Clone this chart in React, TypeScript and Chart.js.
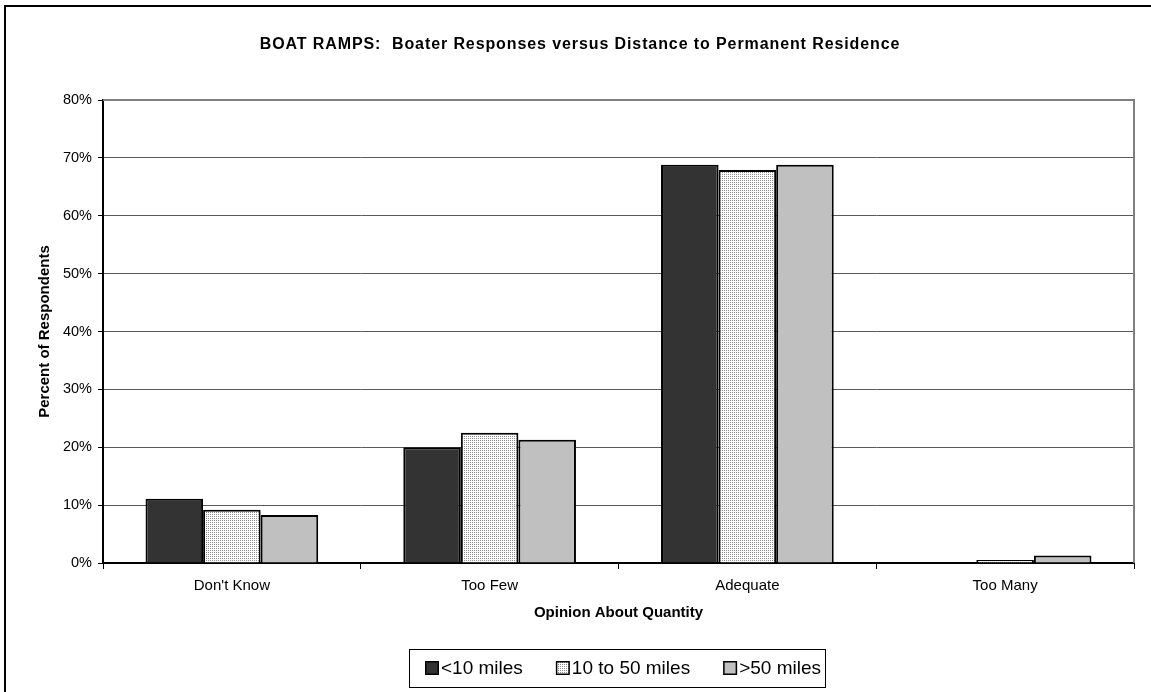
import React, { useEffect, useRef } from 'react';
import { Chart, registerables } from 'chart.js';

Chart.register(...registerables);

const TITLE = 'BOAT RAMPS:  Boater Responses versus Distance to Permanent Residence';
const X_TITLE = 'Opinion About Quantity';
const Y_TITLE = 'Percent of Respondents';

const categories = ["Don't Know", 'Too Few', 'Adequate', 'Too Many'];
const seriesNames = ['<10 miles', '10 to 50 miles', '>50 miles'];
const under10 = [11.1, 20.0, 68.8, 0];
const from10to50 = [9.2, 22.5, 67.9, 0.5];
const over50 = [8.3, 21.3, 68.8, 1.3];
const yTicks = [0, 10, 20, 30, 40, 50, 60, 70, 80];

const FONT = '"Liberation Sans", Arial, sans-serif';

function makeDots(): CanvasPattern {
  const c = document.createElement('canvas');
  c.width = 2;
  c.height = 2;
  const x = c.getContext('2d')!;
  x.fillStyle = '#ffffff';
  x.fillRect(0, 0, 2, 2);
  x.fillStyle = '#8c8c8c';
  x.fillRect(0, 0, 1, 1);
  return x.createPattern(c, 'repeat')!;
}

export default function App() {
  const ref = useRef<HTMLCanvasElement>(null);

  useEffect(() => {
    const canvas = ref.current!;
    const dots = makeDots();
    const fills: (string | CanvasPattern)[] = ['#333333', dots, '#c0c0c0'];
    const values = [under10, from10to50, over50];

    const decor = {
      id: 'decor',
      beforeDatasetsDraw(chart: any) {
        const ctx = chart.ctx as CanvasRenderingContext2D;
        const a = chart.chartArea;
        ctx.save();
        ctx.strokeStyle = '#808080';
        ctx.lineWidth = 2;
        ctx.beginPath();
        ctx.moveTo(a.left, a.top);
        ctx.lineTo(a.right, a.top);
        ctx.lineTo(a.right, a.bottom);
        ctx.stroke();
        ctx.restore();
      },
      afterDraw(chart: any) {
        const ctx = chart.ctx as CanvasRenderingContext2D;
        ctx.save();
        // outer frame
        ctx.strokeStyle = '#000';
        ctx.lineWidth = 2;
        ctx.strokeRect(5, 6, 1300, 900);
        // title
        ctx.fillStyle = '#000';
        ctx.font = `bold 16px ${FONT}`;
        (ctx as any).letterSpacing = '0.9px';
        ctx.textAlign = 'center';
        ctx.textBaseline = 'alphabetic';
        ctx.fillText(TITLE, 580, 49);
        (ctx as any).letterSpacing = '0px';
        // legend
        ctx.font = `19px ${FONT}`;
        const box = 14;
        const gap = 2;
        const itemGap = 33;
        const widths = seriesNames.map((n) => ctx.measureText(n).width);
        const total = widths.reduce((s, w) => s + box + gap + w, 0) + itemGap * (seriesNames.length - 1);
        const frameW = total + 20;
        const frameX = 617 - frameW / 2;
        const frameY = 649;
        const frameH = 38;
        ctx.strokeStyle = '#000';
        ctx.lineWidth = 1;
        ctx.strokeRect(Math.round(frameX) + 0.5, frameY + 0.5, Math.round(frameW), frameH);
        let x = Math.round(frameX) + 16;
        const cy = 668;
        ctx.textAlign = 'left';
        ctx.textBaseline = 'middle';
        seriesNames.forEach((n, i) => {
          ctx.fillStyle = fills[i] as any;
          ctx.fillRect(x, cy - box / 2, box, box);
          ctx.strokeStyle = '#000';
          ctx.lineWidth = 1.5;
          ctx.strokeRect(x + 0.75, cy - box / 2 + 0.75, box - 1.5, box - 1.5);
          ctx.fillStyle = '#000';
          ctx.fillText(n, x + box + gap, cy + 1);
          x += box + gap + widths[i] + itemGap;
        });
        ctx.restore();
      },
    };

    const chart = new Chart(canvas, {
      type: 'bar',
      data: {
        labels: categories,
        datasets: seriesNames.map((name, i) => ({
          label: name,
          data: values[i],
          backgroundColor: fills[i] as any,
          borderColor: '#000000',
          borderWidth: 2,
          categoryPercentage: 0.67,
          barPercentage: 1.0,
        })),
      },
      options: {
        responsive: false,
        animation: false,
        devicePixelRatio: 1,
        layout: { padding: { top: 100, right: 17, bottom: 69, left: 20 } },
        plugins: {
          legend: { display: false },
          title: { display: false },
          tooltip: { enabled: false },
        },
        scales: {
          x: {
            ticks: { padding: 8, font: { size: 15, family: FONT }, color: '#000' },
            grid: { drawOnChartArea: false, drawTicks: true, tickLength: 6, tickColor: '#000', offset: true },
            border: { display: true, color: '#000', width: 2 },
            title: {
              display: true,
              text: X_TITLE,
              color: '#000',
              font: { size: 15, weight: 'bold', family: FONT },
              padding: { top: 0, bottom: 1 },
            },
            afterFit: (s: any) => {
              s.height = 60;
            },
          },
          y: {
            min: 0,
            max: 80,
            afterBuildTicks: (s: any) => {
              s.ticks = yTicks.map((v) => ({ value: v }));
            },
            ticks: {
              padding: 6,
              font: { size: 14.5, family: FONT },
              color: '#000',
              callback: (v: any) => v + '%',
            },
            grid: { color: '#5a5a5a', lineWidth: 1, tickLength: 5, tickColor: '#000', drawTicks: true },
            border: { display: true, color: '#000', width: 2 },
            title: {
              display: true,
              text: Y_TITLE,
              color: '#000',
              font: { size: 15, weight: 'bold', family: FONT },
              padding: { top: 16, bottom: 0 },
            },
            afterFit: (s: any) => {
              s.width = 83;
            },
          },
        },
      },
      plugins: [decor],
    });

    return () => chart.destroy();
  }, []);

  return (
    <div style={{ position: 'absolute', left: 0, top: 0, width: 1151, height: 692, background: '#fff' }}>
      <canvas ref={ref} width={1151} height={692} style={{ display: 'block' }} />
    </div>
  );
}
